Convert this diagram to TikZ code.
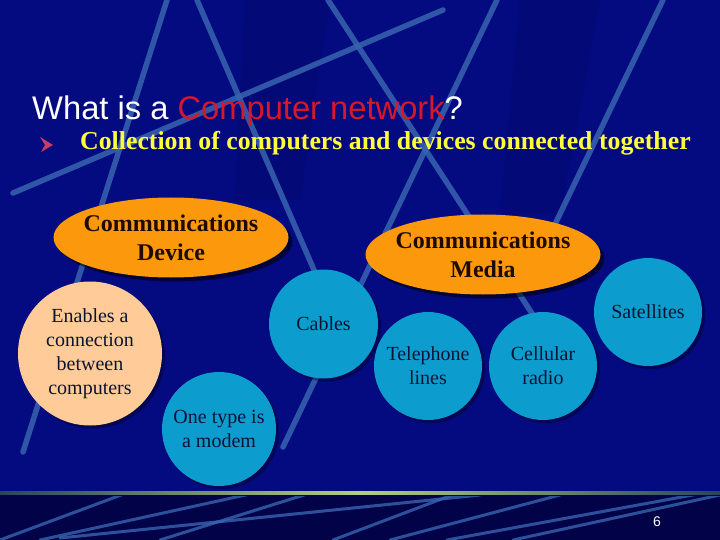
\documentclass[tikz,border=0pt]{standalone}
\usepackage{fontspec}
\setmainfont{Liberation Serif}
\newfontfamily\titlefont{Liberation Sans}
\usetikzlibrary{shapes.geometric,shadows}
\definecolor{bgblue}{RGB}{4,10,128}
\definecolor{bgdark}{RGB}{2,2,72}
\definecolor{streak}{RGB}{56,100,176}
\definecolor{titlered}{RGB}{214,24,40}
\definecolor{bulletyellow}{RGB}{255,255,60}
\definecolor{bulletpink}{RGB}{200,60,95}
\definecolor{orangefill}{RGB}{252,152,12}
\definecolor{peachfill}{RGB}{255,204,153}
\definecolor{cyanfill}{RGB}{12,156,206}
\definecolor{elltext}{RGB}{30,10,0}
\definecolor{circtext}{RGB}{10,20,50}
\definecolor{rulegreen}{RGB}{176,208,128}
\definecolor{ruleend}{RGB}{40,70,90}
\tikzset{
  bgline/.style={streak, line width=5.5pt, opacity=0.85, line cap=round},
  lowline/.style={streak, line width=3pt, opacity=0.8, line cap=round},
  ovalbox/.style={ellipse, fill=orangefill, minimum width=235pt, minimum height=80pt,
    inner xsep=-30pt, inner ysep=-12pt, align=center, text=elltext,
    font=\bfseries\fontsize{24}{29}\selectfont,
    drop shadow={shadow xshift=4pt, shadow yshift=-4pt, fill=black, opacity=0.55}},
  roundbox/.style={circle, fill=cyanfill, inner sep=0pt, align=center, text=circtext,
    font=\fontsize{20}{24}\selectfont,
    drop shadow={shadow xshift=3pt, shadow yshift=-3pt, fill=black, opacity=0.35}},
}
\begin{document}
\begin{tikzpicture}[x=1pt,y=-1pt]
\useasboundingbox (0,0) rectangle (720,540);
% background
\fill[bgblue] (0,0) rectangle (720,495);
\fill[bgdark] (0,495) rectangle (720,540);
% subtle darker bands
\fill[black, opacity=0.07] (245,0) -- (330,0) -- (300,200) -- (235,200) -- cycle;
\fill[black, opacity=0.07] (520,0) -- (600,0) -- (560,215) -- (500,215) -- cycle;
% background streaks
\draw[bgline] (13,193) -- (443,10);
\draw[bgline] (167,0) -- (23,452);
\draw[bgline] (197,0) -- (340,330);
\draw[bgline] (328,0) -- (533,315);
\draw[bgline] (497,0) -- (283,447);
\draw[bgline] (663,0) -- (545,245);
% bottom streaks
\begin{scope}
\clip (0,496) rectangle (720,540);
\draw[lowline] (0,540) -- (140,488);
\draw[lowline] (40,540) -- (250,494);
\draw[lowline] (60,538) -- (480,495);
\draw[lowline] (160,540) -- (320,490);
\draw[lowline] (333,540) -- (460,492);
\draw[lowline] (390,540) -- (560,495);
\draw[lowline] (447,540) -- (720,490);
\draw[lowline] (513,540) -- (720,495);
\end{scope}
% rule
\shade[left color=ruleend, right color=ruleend, middle color=rulegreen] (0,491.5) rectangle (720,494.5);
% title
\node[anchor=base west, inner sep=0pt, font=\titlefont\fontsize{32.7}{38}\selectfont] (title) at (32,120)
  {\textcolor{white}{What is a }\textcolor{titlered}{Computer network}\textcolor{white}{?}};
% bullet
\fill[bulletpink] (40,137) -- (53,145) -- (41,152) -- (45,145) -- cycle;
\node[anchor=base west, inner sep=0pt, text=bulletyellow, font=\bfseries\fontsize{25.8}{30}\selectfont] (bullet) at (80,150)
  {Collection of computers and devices connected together};
% ellipses
\node[ovalbox] (device) at (171,237.5) {Communications\\Device};
\node[ovalbox] (media) at (483,254.5) {Communications\\Media};
% circles
\node[roundbox, fill=peachfill, minimum size=144pt] (enables) at (90,353.5) {Enables a\\connection\\between\\computers};
\node[roundbox, minimum size=114pt] (modem) at (219,429) {One type is\\a modem};
\node[roundbox, minimum size=109pt] (cables) at (323.5,324) {Cables};
\node[roundbox, minimum size=108pt] (phone) at (428,366) {Telephone\\lines};
\node[roundbox, minimum size=108pt] (cell) at (543,366) {Cellular\\radio};
\node[roundbox, minimum size=108pt] (sat) at (648,312) {Satellites};
% page number
\node[text=white, font=\titlefont\fontsize{14}{16}\selectfont, inner sep=0pt] (page) at (657,522) {6};
\end{tikzpicture}
\end{document}
